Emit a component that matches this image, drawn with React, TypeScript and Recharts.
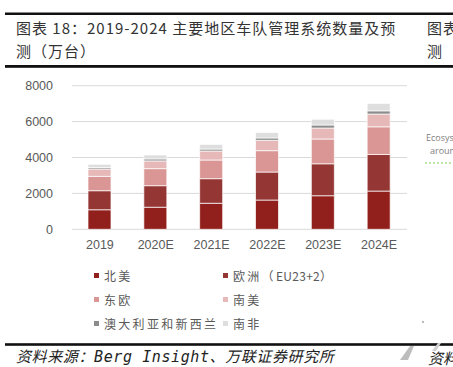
import { Bar, BarChart, CartesianGrid, Legend, XAxis, YAxis } from "recharts";

const years = ["2019", "2020E", "2021E", "2022E", "2023E", "2024E"];
const northAmerica = [1090, 1230, 1450, 1630, 1870, 2130];
const europe = [1060, 1200, 1370, 1560, 1780, 2040];
const easternEurope = [800, 950, 1040, 1190, 1380, 1540];
const southAmerica = [410, 430, 500, 580, 610, 710];
const ausNz = [80, 110, 110, 130, 170, 180];
const southAfrica = [180, 220, 260, 300, 320, 410];

const seriesKeys = ["na", "eu", "eeu", "sa", "au", "za"];
const seriesNames = ["北美", "欧洲（EU23+2）", "东欧", "南美", "澳大利亚和新西兰", "南非"];
const seriesColors = ["#911f1b", "#943634", "#d99694", "#e6b9b8", "#8c8c8c", "#dedede"];
const yTicks = [0, 2000, 4000, 6000, 8000];

const rows = years.map((year, i) => ({
  year,
  na: northAmerica[i],
  eu: europe[i],
  eeu: easternEurope[i],
  sa: southAmerica[i],
  au: ausNz[i],
  za: southAfrica[i],
}));

const CJK = '"Noto Sans CJK SC", "Noto Sans", sans-serif';

// 图例里的拉丁字母不加字距，汉字加宽
function spaced(name: string) {
  return name.split(/([A-Za-z0-9+]+)/).map((part, j) =>
    /[A-Za-z0-9]/.test(part) ? (
      <span key={j} style={{ letterSpacing: 0.3 }}>{part}</span>
    ) : (
      <span key={j}>{part}</span>
    )
  );
}

function LegendGrid() {
  return (
    <div style={{ position: "relative", width: 453, height: 72, fontFamily: CJK, fontSize: 12, color: "#595959", letterSpacing: 2.3 }}>
      {seriesNames.map((name, i) => (
        <div
          key={name}
          style={{
            position: "absolute",
            left: i % 2 ? 223 : 94,
            top: Math.floor(i / 2) * 24,
            height: 14,
            display: "flex",
            alignItems: "center",
            whiteSpace: "nowrap",
          }}
        >
          <span style={{ display: "inline-block", width: 5, height: 5, background: seriesColors[i], marginRight: 5 }} />
          <span>{spaced(name)}</span>
        </div>
      ))}
    </div>
  );
}

export default function App() {
  return (
    <div style={{ position: "absolute", left: 0, top: 0, width: 453, height: 367, overflow: "hidden", background: "#fff" }}>
      <svg width={453} height={367} style={{ position: "absolute", left: 0, top: 0 }}>
        {/* 表头、表尾的粗线 */}
        <rect x={5} y={12.5} width={448} height={2.5} fill="#111" />
        <rect x={5} y={65} width={448} height={2.8} fill="#111" />
        <rect x={5} y={343.2} width={448} height={2.6} fill="#111" />
        <g fontFamily={CJK} fontSize={15} fill="#333" letterSpacing={1}>
          <text x={16} y={27} dominantBaseline="central">图表 18：2019-2024 主要地区车队管理系统数量及预</text>
          <text x={16} y={50} dominantBaseline="central">测（万台）</text>
          <text x={427} y={27} dominantBaseline="central">图表</text>
          <text x={427} y={50} dominantBaseline="central">测</text>
        </g>
        <g fontFamily={'"Open Sans", sans-serif'} fontSize={9} fill="#7f7f7f">
          <text x={426} y={137} dominantBaseline="central">Ecosys</text>
          <text x={430} y={150} dominantBaseline="central">aroun</text>
        </g>
        <line x1={425} y1={163} x2={453} y2={163} stroke="#7ed04b" strokeWidth={1} strokeDasharray="2 2" />
        <rect x={422} y={321} width={2} height={2} fill="#bbb" />
        <polygon points="400,360 408,360 414,346 410,346" fill="#bdbdbd" />
        <polygon points="432,351 436,351 441,343 438,343" fill="#d0d0d0" />
        <text x={16} y={357} dominantBaseline="central" fontFamily={'"DejaVu Sans Mono", "Noto Sans CJK SC", monospace'} fontStyle="italic" fontSize={15} fill="#222" letterSpacing={0.6}>
          资料来源：Berg Insight、万联证券研究所
        </text>
        <text x={428} y={357} dominantBaseline="central" fontFamily={CJK} fontStyle="italic" fontSize={15} fill="#222">
          资料
        </text>
      </svg>
      <div style={{ position: "absolute", left: 0, top: 0 }}>
        <BarChart width={453} height={367} data={rows} margin={{ top: 85.7, right: 46, bottom: 107.7, left: 0 }} barSize={23}>
          <CartesianGrid stroke="#d9d9d9" vertical={false} />
          <XAxis
            dataKey="year"
            height={30}
            axisLine={false}
            tickLine={false}
            tickSize={0}
            tickMargin={11}
            tick={{ fontSize: 12.5, fill: "#595959", fontFamily: '"Liberation Sans", Arial, sans-serif' }}
          />
          <YAxis
            width={72}
            domain={[0, 8000]}
            ticks={yTicks}
            axisLine={false}
            tickLine={false}
            tickSize={0}
            tickMargin={19}
            tick={{ fontSize: 12.5, fill: "#595959", fontFamily: '"Liberation Sans", Arial, sans-serif' }}
          />
          {seriesKeys.map((k, i) => (
            <Bar
              key={k}
              dataKey={k}
              name={seriesNames[i]}
              stackId="all"
              fill={seriesColors[i]}
              stroke="#ffffff"
              strokeWidth={0.7}
              isAnimationActive={false}
            />
          ))}
          <Legend
            layout="horizontal"
            verticalAlign="middle"
            align="center"
            content={() => <LegendGrid />}
            wrapperStyle={{ top: 268, left: 0, width: 453 }}
          />
        </BarChart>
      </div>
    </div>
  );
}
